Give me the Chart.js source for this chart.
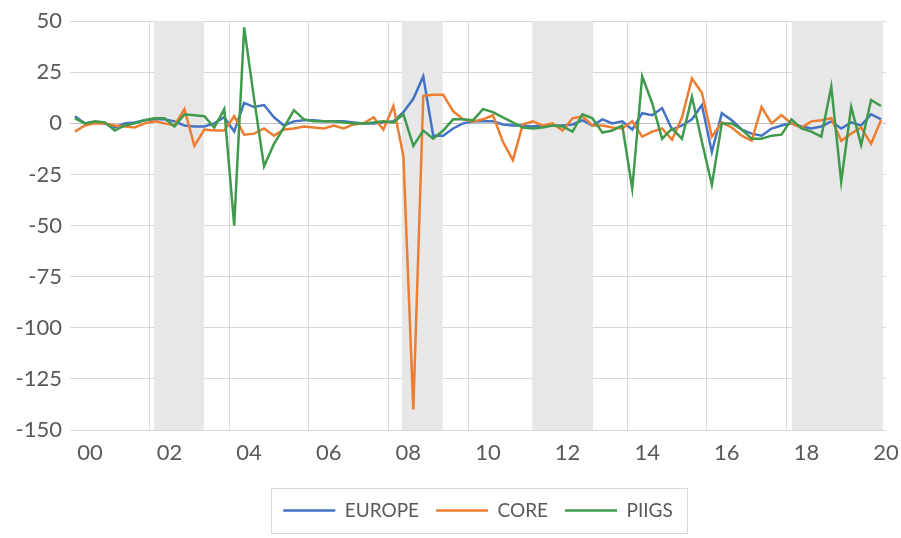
<!DOCTYPE html>
<html>
<head>
<meta charset="utf-8">
<script src="https://cdn.jsdelivr.net/npm/chart.js@4.4.1/dist/chart.umd.min.js"></script>
<style>
  html, body { margin: 0; padding: 0; background: #fff; }
</style>
</head>
<body>
<canvas id="myChart" width="901" height="538"></canvas>
<script>
// quarters 2000Q1 .. 2020Q2
const quarters = [];
for (let yr = 2000; yr <= 2020; yr++) {
    for (let q = 1; q <= 4; q++) {
        if (yr === 2020 && q > 2) break;
        quarters.push(yr + 'Q' + q);
    }
}

const europe = [
    3.5, 0, 0.5, 0, -2, 0, 0.5, 1.5, 2, 2,
    1, -1, -1.5, -1.5, 0, 3, -4, 10, 8, 9,
    3, -1, 1, 1.5, 1.5, 1, 1, 1, 0.5, 0,
    0, 0.5, 1, 5.5, 12, 23, -6, -6, -2.5, 0,
    1, 1, 1, -0.5, -1, -1, -1.5, -1, -1, -1,
    -0.5, 1.5, -1, 2, 0, 1, -3, 5, 4, 7.5,
    -3, -1, 2, 9, -14, 5, 1.5, -3, -5, -6,
    -2.5, -1, 0, -1.5, -2.5, -1.5, 1, -2.5, 0.5, -1,
    4.5, 2
];

const core = [
    -4, -1, 0, 0, -1, -1.5, -2, 0, 1, 0,
    -1, 7, -11, -3, -3.5, -3.5, 3.5, -5.5, -5, -2.5,
    -6, -3, -2.5, -1.5, -2, -2.5, -1, -2.5, -0.5, 0,
    3, -3, 8.5, -16, -140, 13.5, 14, 14, 6, 2,
    1, 2, 4, -9, -18, -0.5, 1, -1, 0, -3.5,
    2.5, 3.5, -1, -1, -2, -2.5, 1, -6.5, -4, -2.5,
    -8, 3, 22, 15, -6.5, 0.5, -2, -6, -8.5, 8,
    0, 4, 0, -2, 1, 1.5, 2.5, -8.5, -5, -2,
    -10, 1.5
];

const piigs = [
    2.5, 0, 1, 0.5, -3.5, -1, 0, 1.5, 2.5, 2.5,
    -1.5, 4.5, 4, 3.5, -2, 7, -50, 47, 12, -21,
    -10, -2, 6.5, 2, 1, 1, 1, 0.5, 0, 0,
    0.5, 1, 0.5, 4.5, -11, -3.5, -7.5, -3.5, 2, 2,
    1.5, 7, 5.5, 3, 0.5, -2, -2.5, -2, -1, -1.5,
    -4, 4.5, 2.5, -4.5, -3.5, -1, -32, 23, 10, -7.5,
    -2.5, -7.5, 13, -9, -30, 0, 0, -3, -7.5, -7.5,
    -6, -5.5, 2, -2.5, -4, -6.5, 18, -28.5, 8, -10.5,
    11.5, 8.5
];

const yearLabels = ['00', '02', '04', '06', '08', '10', '12', '14', '16', '18', '20'];

// shaded periods, in quarter index units
const recessionStart = [7.95, 32.85, 45.95, 72.05];
const recessionEnd = [12.95, 36.95, 52.05, 81.2];

const textColor = '#595959';
const gridColor = '#d9d9d9';

// label ticks sit 1.5 quarters into each 2-year block, grid lines on the block edges
const labelPos = yearLabels.map((_, k) => 1.5 + 8 * k);
const gridPos = [];
for (let k = 1; k * 8 < quarters.length; k++) gridPos.push(8 * k - 0.5);

const toXY = arr => arr.map((v, i) => ({ x: i, y: v }));

const bandsPlugin = {
    id: 'bands',
    beforeDatasetsDraw(chart) {
        const { ctx, chartArea, scales } = chart;
        ctx.save();
        ctx.fillStyle = '#e7e7e7';
        recessionStart.forEach((s, k) => {
            const x0 = scales.x.getPixelForValue(s);
            const x1 = scales.x.getPixelForValue(recessionEnd[k]);
            ctx.fillRect(x0, chartArea.top, x1 - x0, chartArea.bottom - chartArea.top);
        });
        ctx.restore();
    }
};

const legendBoxPlugin = {
    id: 'legendBox',
    afterDraw(chart) {
        const hb = chart.legend.legendHitBoxes;
        if (!hb || !hb.length) return;
        const last = hb[hb.length - 1];
        const left = Math.round(hb[0].left - 12);
        const right = Math.round(last.left + last.width + 14);
        const top = Math.round(hb[0].top - 13);
        const bottom = Math.round(hb[0].top + hb[0].height + 13);
        const ctx = chart.ctx;
        ctx.save();
        ctx.strokeStyle = gridColor;
        ctx.lineWidth = 1;
        ctx.strokeRect(left + 0.5, top + 0.5, right - left, bottom - top);
        ctx.restore();
    }
};

const ctx = document.getElementById('myChart').getContext('2d');
const myChart = new Chart(ctx, {
    type: 'line',
    data: {
        datasets: [
            { label: 'EUROPE', data: toXY(europe), borderColor: '#4472C4', backgroundColor: '#4472C4', borderWidth: 2.5, order: 3 },
            { label: 'CORE', data: toXY(core), borderColor: '#ED7D31', backgroundColor: '#ED7D31', borderWidth: 2.5, order: 2 },
            { label: 'PIIGS', data: toXY(piigs), borderColor: '#3f9b4b', backgroundColor: '#3f9b4b', borderWidth: 2.5, order: 1 }
        ]
    },
    options: {
        responsive: false,
        animation: false,
        devicePixelRatio: 1,
        layout: { padding: { top: 18, right: 15, bottom: 8, left: 0 } },
        elements: {
            line: { borderWidth: 2.5, tension: 0, fill: false },
            point: { radius: 0, hoverRadius: 0 }
        },
        scales: {
            x: {
                type: 'linear',
                min: -0.5,
                max: quarters.length - 0.5,
                afterBuildTicks(scale) {
                    scale.ticks = gridPos.concat(labelPos).sort((a, b) => a - b).map(v => ({ value: v }));
                },
                afterFit(scale) {
                    scale.height = 54;
                    scale.paddingLeft = 0;
                    scale.paddingRight = 0;
                },
                grid: {
                    color: c => (c.tick && gridPos.includes(c.tick.value)) ? gridColor : 'rgba(0,0,0,0)',
                    drawTicks: false
                },
                border: { display: false },
                ticks: {
                    autoSkip: false,
                    maxRotation: 0,
                    padding: 10,
                    color: textColor,
                    font: { family: 'Lato', size: 22 },
                    callback: v => {
                        const k = labelPos.indexOf(v);
                        return k >= 0 ? yearLabels[k] : '';
                    }
                }
            },
            y: {
                min: -150,
                max: 50,
                afterFit(scale) { scale.width = 70; },
                grid: {
                    color: c => (c.tick && c.tick.value === 0) ? '#bfbfbf' : gridColor,
                    drawTicks: false
                },
                border: { display: false },
                ticks: {
                    stepSize: 25,
                    padding: 8,
                    color: textColor,
                    font: { family: 'Lato', size: 22 }
                }
            }
        },
        plugins: {
            tooltip: { enabled: false },
            legend: {
                display: true,
                position: 'bottom',
                fullSize: false,
                labels: {
                    usePointStyle: true,
                    pointStyle: 'line',
                    pointStyleWidth: 52,
                    padding: 17,
                    color: textColor,
                    font: { family: 'Lato', size: 19 },
                    sort: (a, b) => a.datasetIndex - b.datasetIndex
                }
            }
        }
    },
    plugins: [bandsPlugin, legendBoxPlugin]
});
</script>
</body>
</html>
